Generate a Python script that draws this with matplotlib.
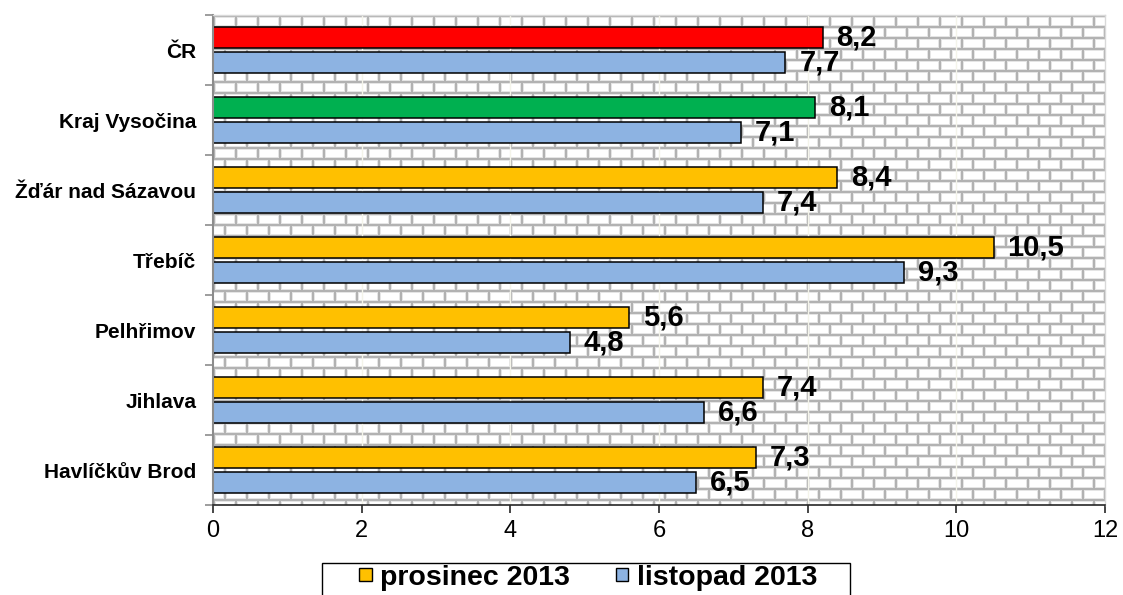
import numpy as np
import matplotlib
matplotlib.use("Agg")
import matplotlib.pyplot as plt
from matplotlib.patches import Patch, Rectangle

plt.rcParams['font.family'] = ['Liberation Sans', 'DejaVu Sans']

categories = ["Havlíčkův Brod", "Jihlava", "Pelhřimov", "Třebíč",
              "Žďár nad Sázavou", "Kraj Vysočina", "ČR"]
prosinec = [7.3, 7.4, 5.6, 10.5, 8.4, 8.1, 8.2]
listopad = [6.5, 6.6, 4.8, 9.3, 7.4, 7.1, 7.7]
prosinec_colors = ["#FFC000"] * 5 + ["#00B050", "#FF0000"]
listopad_color = "#8DB3E2"
series_labels = ["prosinec 2013", "listopad 2013"]
x_ticks = [0, 2, 4, 6, 8, 10, 12]

W, H = 1123, 595
fig = plt.figure(figsize=(W / 100, H / 100), dpi=100)
ax_l, ax_r, ax_t, ax_b = 213, 1105, 15, 505
ax = fig.add_axes([ax_l / W, 1 - ax_b / H, (ax_r - ax_l) / W, (ax_b - ax_t) / H])

# brick background pattern (style only)
pw, ph = ax_r - ax_l, ax_b - ax_t
row_h, brick_w = 11, 22
yy, xx = np.mgrid[0:ph, 0:pw]
row = yy // row_h
ry = yy % row_h
rx = (xx + (row % 2) * (brick_w // 2)) % brick_w
img = np.ones((ph, pw))
inner = (ry == 2) | (ry == row_h - 1) | (rx == 2) | (rx == brick_w - 1)
img[inner] = 0.9
mortar = (ry < 2) | (rx < 2)
img[mortar] = 0.7
rgb = np.dstack([img, img, img])
n = len(categories)
ax.imshow(rgb, extent=(0, 12, -0.5, n - 0.5), aspect='auto',
          interpolation='nearest', zorder=0)

for xv in x_ticks[1:-1]:
    ax.axvline(xv, color="#f4f4ea", lw=1.0, zorder=0.5)

y = np.arange(n)
off = 0.18
bh = 0.29
ax.barh(y + off, prosinec, height=bh, color=prosinec_colors,
        edgecolor="black", linewidth=1.1, zorder=2)
ax.barh(y - off, listopad, height=bh, color=listopad_color,
        edgecolor="black", linewidth=1.1, zorder=2)

def fmt(v):
    return f"{v:.1f}".replace(".", ",")

for yi, v in zip(y, prosinec):
    ax.annotate(fmt(v), (v, yi + off), xytext=(10, 0), textcoords="offset points",
                ha="left", va="center", fontsize=21, fontweight="bold", zorder=3)
for yi, v in zip(y, listopad):
    ax.annotate(fmt(v), (v, yi - off), xytext=(10, 0), textcoords="offset points",
                ha="left", va="center", fontsize=21, fontweight="bold", zorder=3)

ax.set_xlim(0, 12)
ax.set_ylim(-0.5, n - 0.5)
ax.set_xticks(x_ticks)
ax.set_xticklabels([str(t) for t in x_ticks], fontsize=17)
ax.tick_params(axis="x", length=6, width=1.2, color="#262626", pad=5)
ax.set_yticks(y)
ax.set_yticklabels(categories, fontsize=15, fontweight="bold")
ax.tick_params(axis="y", which="major", length=0, pad=12)
ax.set_yticks(np.arange(-0.5, n, 1.0), minor=True)
ax.tick_params(axis="y", which="minor", length=6, width=1.2, color="#8c8c8c")

ax.spines["left"].set_color("#8c8c8c")
ax.spines["left"].set_linewidth(1.5)
ax.spines["bottom"].set_color("#262626")
ax.spines["bottom"].set_linewidth(1.2)
for s in ("top", "right"):
    ax.spines[s].set_color("#d9d9d9")
    ax.spines[s].set_linewidth(1.0)

# legend frame drawn as a figure rectangle
fig.patches.append(Rectangle((322 / W, 1 - 605 / H), (850 - 322) / W, (605 - 563) / H,
                             transform=fig.transFigure, facecolor="white",
                             edgecolor="black", linewidth=1.0, zorder=1))
handles = [Patch(facecolor="#FFC000", edgecolor="black", linewidth=1.0),
           Patch(facecolor=listopad_color, edgecolor="black", linewidth=1.0)]
leg = fig.legend(handles, series_labels, loc="center",
                 bbox_to_anchor=(588 / W, 1 - 578 / H), ncol=2,
                 prop={"size": 20.5, "weight": "bold"}, frameon=False,
                 handlelength=0.45, handleheight=0.32, handletextpad=0.3,
                 columnspacing=1.6, borderpad=0.0, borderaxespad=0.0)
leg.set_zorder(2)

fig.savefig("out.png", dpi=100)
